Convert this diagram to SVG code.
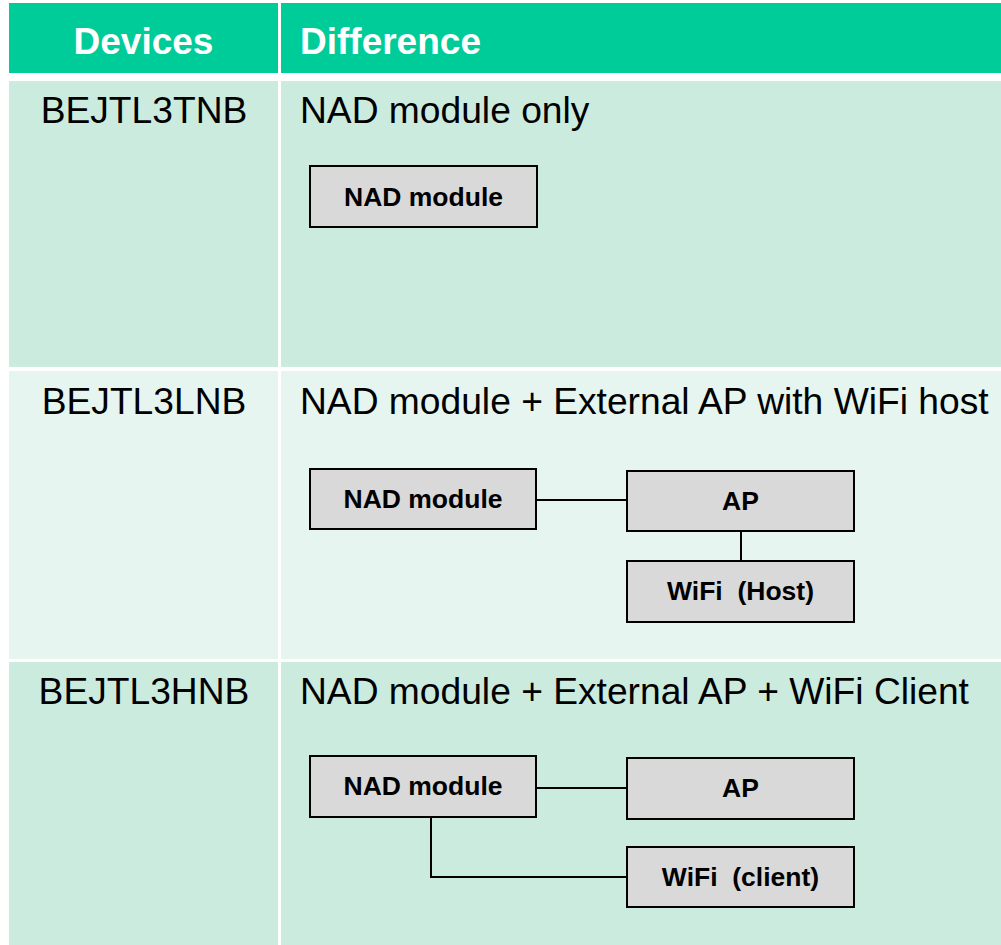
<svg xmlns="http://www.w3.org/2000/svg" width="1001" height="945" viewBox="0 0 1001 945">
<style>
.hdr{fill:#00CC99}
.r1{fill:#CCEBDF}
.r2{fill:#E6F5EF}
.ht{font-family:"Liberation Sans",Arial,sans-serif;font-weight:bold;font-size:37px;fill:#FFFFFF}
.ct{font-family:"Liberation Sans",Arial,sans-serif;font-size:37.2px;fill:#000000}
.box{fill:#D9D9D9;stroke:#000000;stroke-width:2}
.bt{font-family:"Liberation Sans",Arial,sans-serif;font-weight:bold;font-size:26.5px;fill:#000000;text-anchor:middle;white-space:pre}
.con{fill:none;stroke:#000000;stroke-width:2}
</style>
<rect x="0" y="0" width="1001" height="945" fill="#FFFFFF"/>
<g id="table">
<rect class="hdr" x="9" y="3" width="269" height="70"/>
<rect class="hdr" x="281" y="3" width="720" height="70"/>
<rect class="r1" x="9" y="81" width="269" height="286"/>
<rect class="r1" x="281" y="81" width="720" height="286"/>
<rect class="r2" x="9" y="371" width="269" height="288"/>
<rect class="r2" x="281" y="371" width="720" height="288"/>
<rect class="r1" x="9" y="662" width="269" height="283"/>
<rect class="r1" x="281" y="662" width="720" height="283"/>
<text class="ht" x="143.5" y="54" text-anchor="middle">Devices</text>
<text class="ht" x="300" y="54">Difference</text>
<text class="ct" x="144" y="123" text-anchor="middle">BEJTL3TNB</text>
<text class="ct" x="300" y="123">NAD module only</text>
<text class="ct" x="144" y="414" text-anchor="middle">BEJTL3LNB</text>
<text class="ct" x="300" y="414">NAD module + External AP with WiFi host</text>
<text class="ct" x="144" y="704" text-anchor="middle">BEJTL3HNB</text>
<text class="ct" x="300" y="704">NAD module + External AP + WiFi Client</text>
</g>
<g id="connectors">
<line class="con" x1="536" y1="500" x2="627" y2="500"/>
<line class="con" x1="741" y1="531" x2="741" y2="561"/>
<line class="con" x1="536" y1="788" x2="627" y2="788"/>
<polyline class="con" points="431,817 431,877 627,877"/>
</g>
<g id="n1-nad">
<rect class="box" x="310" y="166" width="227" height="61"/>
<text class="bt" x="423.5" y="206">NAD module</text>
</g>
<g id="n2-nad">
<rect class="box" x="310" y="469" width="226" height="60"/>
<text class="bt" x="423" y="508">NAD module</text>
</g>
<g id="n2-ap">
<rect class="box" x="627" y="471" width="227" height="60"/>
<text class="bt" x="740.5" y="510">AP</text>
</g>
<g id="n2-wifi">
<rect class="box" x="627" y="561" width="227" height="61"/>
<text class="bt" x="740.5" y="600">WiFi  (Host)</text>
</g>
<g id="n3-nad">
<rect class="box" x="310" y="756" width="226" height="61"/>
<text class="bt" x="423" y="795">NAD module</text>
</g>
<g id="n3-ap">
<rect class="box" x="627" y="758" width="227" height="61"/>
<text class="bt" x="740.5" y="797">AP</text>
</g>
<g id="n3-wifi">
<rect class="box" x="627" y="847" width="227" height="60"/>
<text class="bt" x="740.5" y="886">WiFi  (client)</text>
</g>
</svg>
